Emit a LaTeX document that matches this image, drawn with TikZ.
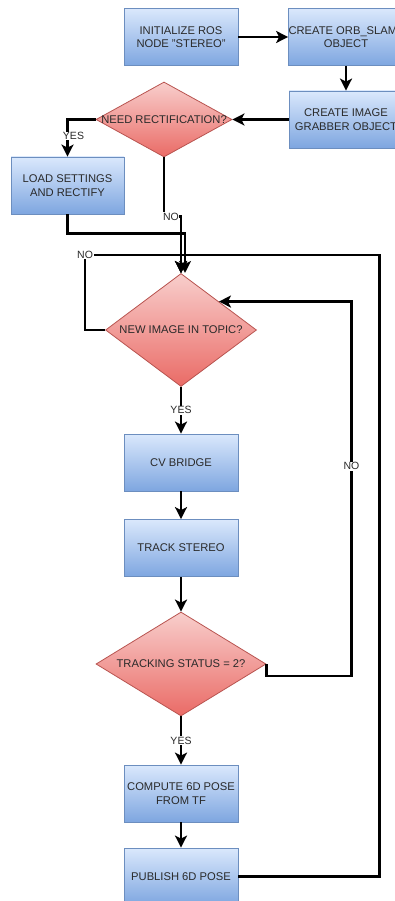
\documentclass[tikz,border=0pt]{standalone}
\usepackage{fontspec}
\setmainfont{Liberation Sans}
\usetikzlibrary{arrows.meta,shapes.geometric,positioning}
\definecolor{boxtop}{HTML}{DAE8FC}
\definecolor{boxbot}{HTML}{7EA6E0}
\definecolor{boxline}{HTML}{6C8EBF}
\definecolor{dectop}{HTML}{F8CECC}
\definecolor{decbot}{HTML}{EA6B66}
\definecolor{decline}{HTML}{B85450}
\definecolor{txt}{HTML}{2A2A2A}
\newcommand{\dtxt}[1]{\makebox[0pt]{#1}}
\tikzset{
  proc/.style={draw=boxline, line width=0.8pt, top color=boxtop, bottom color=boxbot,
               minimum width=114pt, minimum height=57pt, inner sep=0pt, align=center,
               text=txt, font=\fontsize{11.2}{13.4}\selectfont},
  dec/.style={diamond, draw=decline, line width=0.8pt, top color=dectop, bottom color=decbot,
              inner sep=0pt, text=txt, font=\fontsize{11.2}{13.4}\selectfont},
  flow/.style={-{Stealth[length=12pt,width=12pt,inset=3pt]}, line width=2.4pt},
  lbl/.style={fill=white, inner sep=0.6pt, text=txt, font=\fontsize{10.5}{12}\selectfont},
}
\begin{document}
\begin{tikzpicture}[x=1pt, y=-1pt]
  \useasboundingbox (0,0) rectangle (394,901);
  \node[proc] (init) at (181,37) {INITIALIZE ROS\\NODE "STEREO"};
  \node[proc] (orb) at (346,37) {CREATE ORB\_SLAM2\\OBJECT};
  \node[proc] (grab) at (346,119.5) {CREATE IMAGE\\GRABBER OBJECT};
  \node[dec, minimum width=136pt, minimum height=75pt] (rect) at (164,119.5) {\dtxt{NEED RECTIFICATION?}};
  \node[proc, minimum width=113pt] (load) at (67.5,185.5) {LOAD SETTINGS\\AND RECTIFY};
  \node[dec, minimum width=151pt, minimum height=113pt] (newimg) at (181,330) {\dtxt{NEW IMAGE IN TOPIC?}};
  \node[proc] (cvb) at (181,462.5) {CV BRIDGE};
  \node[proc] (track) at (181,548) {TRACK STEREO};
  \node[dec, minimum width=170pt, minimum height=104pt] (status) at (181,664) {\dtxt{TRACKING STATUS = 2?}};
  \node[proc] (comp) at (181,793.5) {COMPUTE 6D POSE\\FROM TF};
  \node[proc] (pub) at (181,876.5) {PUBLISH 6D POSE};
  \coordinate (inB) at (185,273);
  \coordinate (loopY) at (181,255);
  % setup
  \draw[flow] (init.east) -- (orb.west);
  \draw[flow] (orb) -- (grab);
  \draw[flow] (grab) -- (rect);
  \draw[flow] (rect.west) -| node[lbl, pos=0.72, xshift=6pt] {YES} (load.north);
  \draw[flow] (rect.south) -- ++(0,59) node[lbl, xshift=7pt] {NO} -| (newimg.north);
  \draw[flow] (load.south) -- ++(0,19) -| (inB);
  % main loop
  \draw[flow] (newimg.west) -- ++(-20,0) |- node[lbl, pos=0.5] {NO} (loopY) -- (newimg.north);
  \draw[flow] (pub.east) -- ++(141,0) |- (loopY) -- (newimg.north);
  \draw[flow] (newimg) -- node[lbl] {YES} (cvb);
  \draw[flow] (cvb) -- (track);
  \draw[flow] (track) -- (status);
  \draw[flow] (status.east) -- ++(0,12) -- ++(85,0) |- node[lbl, pos=0.28] {NO} (newimg.north east);
  \draw[flow] (status) -- node[lbl] {YES} (comp);
  \draw[flow] (comp) -- (pub);
\end{tikzpicture}
\end{document}
